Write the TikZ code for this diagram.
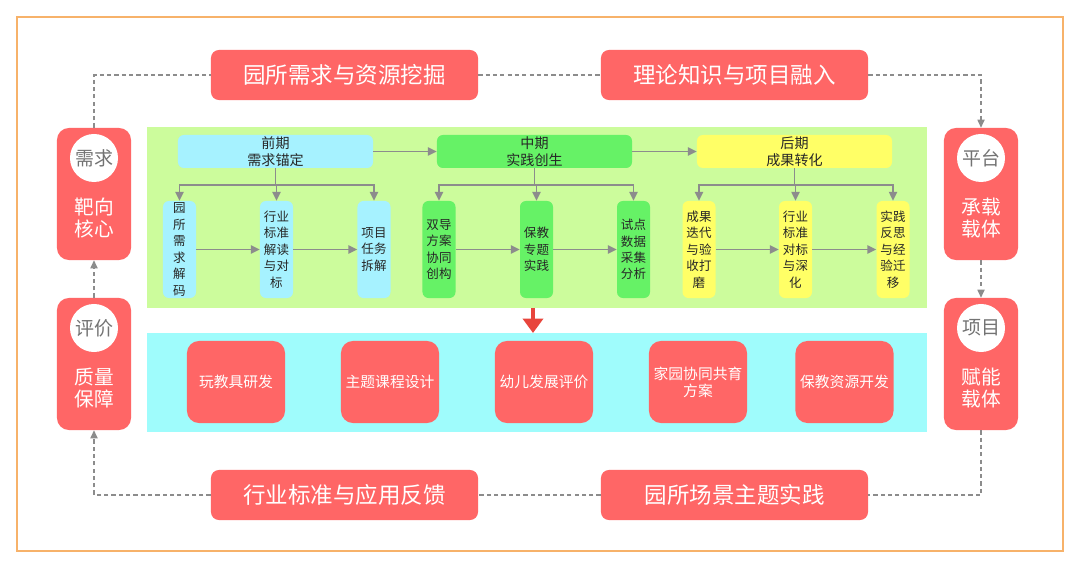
\documentclass[tikz,border=0pt]{standalone}
\usepackage{fontspec}
\newfontfamily\cjk{Noto Sans CJK SC}
\usepackage{xcolor}
\usetikzlibrary{arrows.meta, positioning}

\definecolor{framecol}{HTML}{F7B26A}
\definecolor{boxred}{HTML}{FF6666}
\definecolor{panelgreen}{HTML}{CCFC9C}
\definecolor{panelcyan}{HTML}{9FFCFC}
\definecolor{stagecyan}{HTML}{A6F2FF}
\definecolor{stagegreen}{HTML}{66F266}
\definecolor{stageyellow}{HTML}{FFFF66}
\definecolor{arrgray}{HTML}{8C8C8C}
\definecolor{bigred}{HTML}{E8453C}

\begin{document}
\begin{tikzpicture}[
    x=0.025cm, y=-0.025cm,
    every node/.style={font=\cjk, inner sep=0pt},
    topbox/.style={fill=boxred, rounded corners=0.2cm, minimum width=6.675cm, minimum height=1.25cm,
        text=white, font=\cjk\fontsize{16pt}{19pt}\selectfont},
    sidebox/.style={fill=boxred, rounded corners=0.3cm, minimum width=1.85cm, minimum height=3.3cm},
    sidecirc/.style={circle, fill=white, minimum size=1.2cm, text=black!55,
        font=\cjk\fontsize{13.5pt}{16pt}\selectfont},
    sidetxt/.style={text=white, align=center, font=\cjk\fontsize{14pt}{15.6pt}\selectfont},
    stagebox/.style={rounded corners=0.15cm, minimum width=4.875cm, minimum height=0.825cm,
        align=center, text=black!85, font=\cjk\fontsize{10pt}{12pt}\selectfont},
    subbox/.style={rounded corners=0.15cm, minimum width=0.825cm, minimum height=2.425cm,
        align=center, text=black!85, font=\cjk\fontsize{8.9pt}{11.7pt}\selectfont},
    outbox/.style={fill=boxred, rounded corners=0.3cm, minimum width=2.45cm, minimum height=2.05cm,
        align=center, text=white, font=\cjk\fontsize{10.5pt}{12pt}\selectfont},
    arr/.style={-{Triangle[length=2.2mm, width=2mm]}, arrgray, line width=1.4pt},
    loop/.style={arrgray, line width=0.8pt, dash pattern=on 3pt off 2.2pt},
    looparr/.style={loop, -{Triangle[length=2mm, width=1.8mm]}},
]

\useasboundingbox (0,0) rectangle (1080,569);
\fill[white] (0,0) rectangle (1080,569);
\draw[framecol, line width=1.1pt] (17,17) rectangle (1063,551);

% panels
\fill[panelgreen] (147,127) rectangle (927,308);
\fill[panelcyan] (147,333) rectangle (927,432);

% outer loop
\node[topbox] (demand) at (344.5,75) {园所需求与资源挖掘};
\node[topbox] (theory) at (734.5,75) {理论知识与项目融入};
\node[topbox] (feedback) at (344.5,495) {行业标准与应用反馈};
\node[topbox] (scene) at (734.5,495) {园所场景主题实践};

\node[sidebox] (xuqiu) at (94,194) {};
\node[sidecirc] at (94,158) {需求};
\node[sidetxt] at (94,218) {靶向\\核心};

\node[sidebox] (pingjia) at (94,364) {};
\node[sidecirc] at (94,328) {评价};
\node[sidetxt] at (94,388) {质量\\保障};

\node[sidebox] (pingtai) at (981,194) {};
\node[sidecirc] at (981,158) {平台};
\node[sidetxt] at (981,218) {承载\\载体};

\node[sidebox] (xiangmu) at (981,364) {};
\node[sidecirc] at (981,328) {项目};
\node[sidetxt] at (981,388) {赋能\\载体};

\draw[loop] (xuqiu.north) |- (demand.west);
\draw[loop] (demand.east) -- (theory.west);
\draw[looparr] (theory.east) -| (pingtai.north);
\draw[looparr] (pingtai.south) -- (xiangmu.north);
\draw[loop] (xiangmu.south) |- (scene.east);
\draw[loop] (scene.west) -- (feedback.east);
\draw[looparr] (feedback.west) -| (pingjia.south);
\draw[looparr] (pingjia.north) -- (xuqiu.south);

% stages
\node[stagebox, fill=stagecyan] (early) at (275.5,151.5) {前期\\需求锚定};
\node[stagebox, fill=stagegreen] (mid) at (534.5,151.5) {中期\\实践创生};
\node[stagebox, fill=stageyellow] (late) at (794.5,151.5) {后期\\成果转化};

\draw[arr] (early.east) -- (mid.west);
\draw[arr] (mid.east) -- (late.west);

\node[subbox, fill=stagecyan] (early1) at (179.5,249.5) {园\\所\\需\\求\\解\\码};
\node[subbox, fill=stagecyan] (early2) at (276.5,249.5) {行业\\标准\\解读\\与对\\标};
\node[subbox, fill=stagecyan] (early3) at (374,249.5) {项目\\任务\\拆解};

\node[subbox, fill=stagegreen] (mid1) at (439,249.5) {双导\\方案\\协同\\创构};
\node[subbox, fill=stagegreen] (mid2) at (536.5,249.5) {保教\\专题\\实践};
\node[subbox, fill=stagegreen] (mid3) at (633.5,249.5) {试点\\数据\\采集\\分析};

\node[subbox, fill=stageyellow] (late1) at (699,249.5) {成果\\迭代\\与验\\收打\\磨};
\node[subbox, fill=stageyellow] (late2) at (795.5,249.5) {行业\\标准\\对标\\与深\\化};
\node[subbox, fill=stageyellow] (late3) at (893,249.5) {实践\\反思\\与经\\验迁\\移};

\foreach \s in {early, mid, late} {
    \foreach \i in {1,2,3}
        \draw[arr] (\s.south) -- ++(0,17) -| (\s\i.north);
    \draw[arr] (\s1.east) -- (\s2.west);
    \draw[arr] (\s2.east) -- (\s3.west);
}

% results
\coordinate (drop) at (533,308);
\draw[bigred, line width=3pt, -{Triangle[length=3.6mm, width=5mm]}] (drop) -- (533,333);

\node[outbox] (toys) at (236,382) {玩教具研发};
\node[outbox] (course) at (390,382) {主题课程设计};
\node[outbox] (assess) at (544,382) {幼儿发展评价};
\node[outbox] (family) at (698,382) {家园协同共育\\方案};
\node[outbox] (resource) at (844.5,382) {保教资源开发};

\end{tikzpicture}
\end{document}
